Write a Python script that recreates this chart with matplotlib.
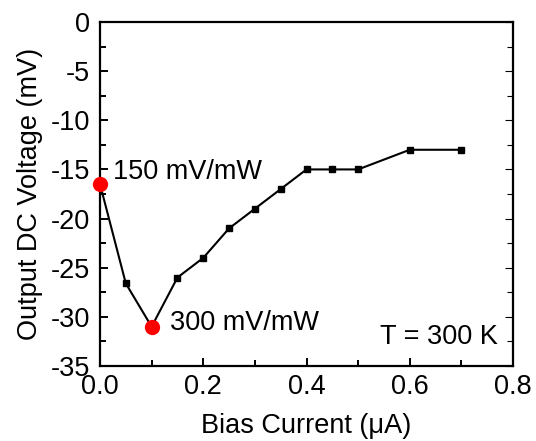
import matplotlib.pyplot as plt
from matplotlib.ticker import MultipleLocator

plt.rcParams['font.family'] = ['Liberation Sans', 'DejaVu Sans']

# bias current (uA) and output DC voltage (mV)
current = [0.0, 0.05, 0.1, 0.15, 0.2, 0.25, 0.3, 0.35, 0.4, 0.45, 0.5, 0.6, 0.7]
voltage = [-16.5, -26.6, -31.0, -26.0, -24.0, -21.0, -19.0, -17.0, -15.0, -15.0, -15.0, -13.0, -13.0]

# highlighted points and their responsivity labels
hl_current = [0.0, 0.1]
hl_voltage = [-16.5, -31.0]
hl_labels = ["150 mV/mW", "300 mV/mW"]

fs = 19.5

fig = plt.figure(figsize=(5.36, 4.41), dpi=100)
ax = fig.add_axes([100 / 536, 1 - 366 / 441, 413 / 536, 344 / 441])

ax.plot(current, voltage, color='black', lw=1.5, marker='s', ms=4.5, zorder=2)
ax.plot(hl_current, hl_voltage, 'o', color='#ff0000', ms=11, mec='none', clip_on=False, zorder=3)

ax.text(0.025, -15.3, hl_labels[0], fontsize=fs, va='center', ha='left')
ax.text(0.136, -30.6, hl_labels[1], fontsize=fs, va='center', ha='left')
ax.text(0.542, -32.0, "T = 300 K", fontsize=fs, va='center', ha='left')

ax.set_xlim(0, 0.8)
ax.set_ylim(-35, 0)
ax.xaxis.set_major_locator(MultipleLocator(0.2))
ax.xaxis.set_minor_locator(MultipleLocator(0.1))
ax.yaxis.set_major_locator(MultipleLocator(5))
ax.yaxis.set_minor_locator(MultipleLocator(2.5))
ax.set_xticklabels([f"{v:.1f}" for v in ax.get_xticks()])
ax.set_yticklabels([f"{int(v)}" for v in ax.get_yticks()])

for s in ax.spines.values():
    s.set_linewidth(1.6)

ax.tick_params(which='both', direction='in', labelsize=fs, width=1.4)
ax.tick_params(which='major', length=6)
ax.tick_params(which='minor', length=4)
ax.tick_params(axis='x', which='major', pad=6)
ax.tick_params(axis='y', which='major', pad=7)
ax.tick_params(axis='y', which='both', right=True)
ax.tick_params(axis='y', which='both', labelright=False)
for t in ax.yaxis.get_ticklines(minor=False)[1::2] + ax.yaxis.get_ticklines(minor=True)[1::2]:
    t.set_color('#c8c8c8')
    t.set_markeredgewidth(0.8)

ax.set_xlabel("Bias Current (\u03bcA)", fontsize=fs, labelpad=9)
ax.set_ylabel("Output DC Voltage (mV)", fontsize=fs, labelpad=5.5)

fig.savefig("out.png", dpi=100)
